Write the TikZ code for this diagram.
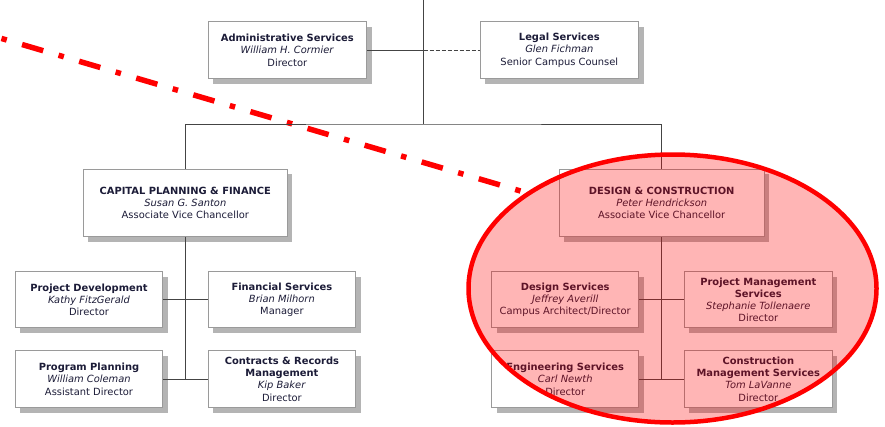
\documentclass[tikz,border=0pt]{standalone}
\usepackage{fontspec}
\setmainfont{DejaVu Sans}
\usetikzlibrary{shadows}
\definecolor{boxgray}{HTML}{9A9A9A}
\definecolor{shadowgray}{HTML}{B4B4B4}
\definecolor{txt}{HTML}{1C1C38}
\definecolor{linegray}{HTML}{444444}
\tikzset{
  orgbox/.style={draw=boxgray, line width=0.9pt, fill=white, align=center,
    inner sep=0pt, text=txt, font=\fontsize{9.9}{12.2}\selectfont,
    drop shadow={shadow xshift=5pt, shadow yshift=-5pt, fill=shadowgray, opacity=1}},
  link/.style={draw=linegray, line width=0.9pt},
  dashlink/.style={link, dashed, dash pattern=on 4pt off 2pt},
  hilite/.style={draw=red, line width=4.5pt, fill=red, fill opacity=0.29},
  redline/.style={draw=red, line width=5.5pt, dash pattern=on 5.5pt off 16pt on 22pt off 16pt}
}
\newcommand{\ttl}[1]{\textbf{#1}}
\newcommand{\nm}[1]{\textit{#1}}
\begin{document}
\begin{tikzpicture}[x=1pt,y=-1pt]
\useasboundingbox (0,0) rectangle (885,426);
\clip (0,0) rectangle (885,426);

% red dash-dot line
\coordinate (rstart) at (520.5,191);
\coordinate (rend) at (-12,34.5);
\draw[redline] (rstart) -- (rend);

% boxes
\node[orgbox, minimum width=158.7pt, minimum height=57pt] (admin) at (287.3,50.2)
  {\ttl{Administrative Services}\\ \nm{William H. Cormier}\\ Director};
\node[orgbox, minimum width=158.7pt, minimum height=57pt] (legal) at (559.3,50.2)
  {\ttl{Legal Services}\\ \nm{Glen Fichman}\\ Senior Campus Counsel};
\node[orgbox, minimum width=204pt, minimum height=67.7pt] (cap) at (185.3,202.8)
  {\ttl{CAPITAL PLANNING \& FINANCE}\\ \nm{Susan G. Santon}\\ Associate Vice Chancellor};
\node[orgbox, minimum width=204.7pt, minimum height=67.7pt] (dc) at (661.7,202.8)
  {\ttl{DESIGN \& CONSTRUCTION}\\ \nm{Peter Hendrickson}\\ Associate Vice Chancellor};
\node[orgbox, minimum width=147.4pt, minimum height=56pt] (pd) at (89,299.7)
  {\ttl{Project Development}\\ \nm{Kathy FitzGerald}\\ Director};
\node[orgbox, minimum width=147.7pt, minimum height=56pt] (fs) at (281.9,299.7)
  {\ttl{Financial Services}\\ \nm{Brian Milhorn}\\ Manager};
\node[orgbox, minimum width=147.4pt, minimum height=57pt] (pp) at (89,379.2)
  {\ttl{Program Planning}\\ \nm{William Coleman}\\ Assistant Director};
\node[orgbox, minimum width=147.7pt, minimum height=57pt] (cr) at (281.9,379.2)
  {\ttl{Contracts \& Records}\\ \ttl{Management}\\ \nm{Kip Baker}\\ Director};
\node[orgbox, minimum width=147pt, minimum height=56pt] (ds) at (565.2,299.7)
  {\ttl{Design Services}\\ \nm{Jeffrey Averill}\\ Campus Architect/Director};
\node[orgbox, minimum width=148pt, minimum height=56pt] (pms) at (758.3,299.7)
  {\ttl{Project Management}\\ \ttl{Services}\\ \nm{Stephanie Tollenaere}\\ Director};
\node[orgbox, minimum width=147pt, minimum height=57pt] (es) at (565.2,379.2)
  {\ttl{Engineering Services}\\ \nm{Carl Newth}\\ Director};
\node[orgbox, minimum width=148pt, minimum height=57pt] (cms) at (758.3,379.2)
  {\ttl{Construction}\\ \ttl{Management Services}\\ \nm{Tom LaVanne}\\ Director};

% connectors
\coordinate (top) at (423.7,0);
\coordinate (hub) at (423.7,124);
\draw[link] (top) -- (hub);
\draw[link] (admin.east) -- (admin.east -| top);
\draw[dashlink] (admin.east -| top) -- (legal.west);
\draw[link] (cap.north) |- (hub) -| (dc.north);
\draw[link] (cap.south) -- (cap.south |- pp.east);
\draw[link] (pd.east) -- (fs.west);
\draw[link] (pp.east) -- (cr.west);
\draw[link] (dc.south) -- (dc.south |- es.east);
\draw[link] (ds.east) -- (pms.west);
\draw[link] (es.east) -- (cms.west);

% highlight ellipse
\coordinate (hl) at (672.5,288.5);
\draw[hilite] (hl) ellipse [x radius=204, y radius=134];
\end{tikzpicture}
\end{document}
